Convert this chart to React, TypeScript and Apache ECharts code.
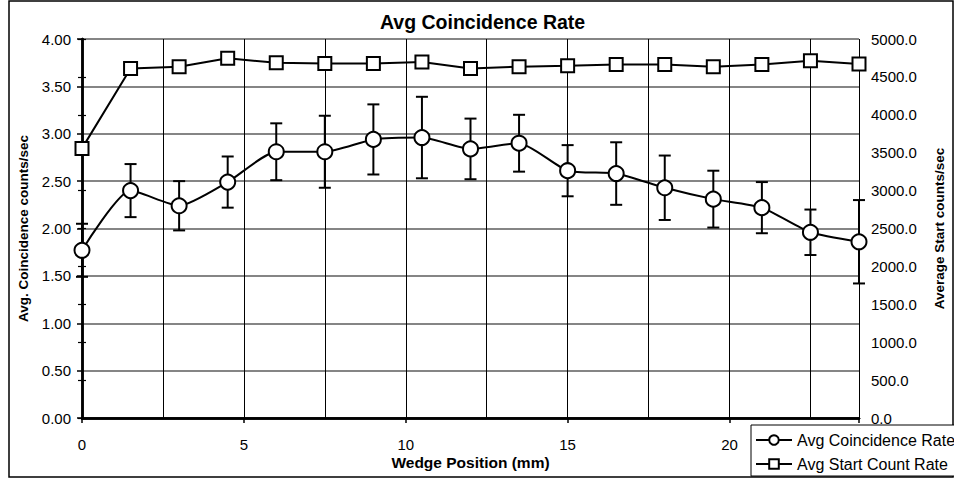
import React, { useEffect, useRef } from "react";
import * as echarts from "echarts";

const positions = [0, 1.5, 3, 4.5, 6, 7.5, 9, 10.5, 12, 13.5, 15, 16.5, 18, 19.5, 21, 22.5, 24];
const coincidence = [1.77, 2.40, 2.24, 2.49, 2.81, 2.81, 2.94, 2.96, 2.84, 2.90, 2.61, 2.58, 2.43, 2.31, 2.22, 1.96, 1.86];
const coincidenceErr = [0.28, 0.28, 0.26, 0.27, 0.30, 0.38, 0.37, 0.43, 0.32, 0.30, 0.27, 0.33, 0.34, 0.30, 0.27, 0.24, 0.44];
const startRate = [3557, 4612, 4634, 4745, 4687, 4678, 4678, 4696, 4612, 4634, 4647, 4665, 4665, 4634, 4665, 4713, 4670];

const seriesNames = ["Avg Coincidence Rate", "Avg Start Count Rate"];
const titleText = "Avg Coincidence Rate";
const xName = "Wedge Position (mm)";
const yLeftName = "Avg. Coincidence counts/sec";
const yRightName = "Average Start counts/sec";

const FONT = "'Liberation Sans', Arial, sans-serif";

export default function App() {
  const ref = useRef<HTMLDivElement>(null);
  useEffect(() => {
    if (!ref.current) return;
    const chart = echarts.init(ref.current, undefined, { renderer: "svg" });
    const coincData = positions.map((x, i) => [x, coincidence[i]]);
    const startData = positions.map((x, i) => [x, startRate[i]]);
    const errData = positions.map((x, i) => [x, coincidence[i] - coincidenceErr[i], coincidence[i] + coincidenceErr[i]]);

    const option: any = {
      animation: false,
      backgroundColor: "#ffffff",
      textStyle: { fontFamily: FONT, color: "#000" },
      title: {
        text: titleText,
        left: 380,
        top: 12,
        padding: 0,
        textStyle: { fontFamily: FONT, fontSize: 19.5, fontWeight: "bold", color: "#000" },
      },
      grid: { left: 82, right: 87, top: 39, bottom: 60, containLabel: false },
      legend: {
        data: [{ name: seriesNames[0] }, { name: seriesNames[1] }],
        orient: "vertical",
        left: 751,
        top: 425,
        padding: [7, 6, 4, 4],
        itemGap: 8,
        itemWidth: 36,
        itemHeight: 12,
        backgroundColor: "#ffffff",
        borderColor: "#000",
        borderWidth: 1,
        textStyle: { fontFamily: FONT, fontSize: 16, color: "#000" },
        z: 20,
      },
      graphic: [
        {
          type: "rect",
          shape: { x: 9, y: 1, width: 944, height: 476 },
          style: { fill: "none", stroke: "#000", lineWidth: 1.5 },
          z: 0,
          silent: true,
        },
      ],
      xAxis: [
        {
          type: "value",
          min: 0,
          max: 24,
          interval: 2.5,
          position: "bottom",
          axisLine: { show: true, lineStyle: { color: "#000", width: 2.5 } },
          axisTick: { show: false },
          axisLabel: { show: false },
          splitLine: { show: true, lineStyle: { color: "#000", width: 1 } },
          name: xName,
          nameLocation: "middle",
          nameGap: 36,
          nameTextStyle: { fontFamily: FONT, fontSize: 15.5, fontWeight: "bold", color: "#000" },
        },
        {
          type: "value",
          min: 0,
          max: 24,
          interval: 5,
          position: "bottom",
          axisLine: { show: false },
          axisTick: { show: true, length: 5, lineStyle: { color: "#000", width: 1.5 } },
          axisLabel: {
            show: true,
            margin: 19,
            fontSize: 15,
            fontFamily: FONT,
            color: "#000",
            formatter: (v: number) => (v % 5 === 0 ? String(v) : ""),
          },
          splitLine: { show: false },
        },
        {
          type: "value",
          min: 0,
          max: 24,
          position: "top",
          axisLine: { show: true, lineStyle: { color: "#000", width: 2.5 } },
          axisTick: { show: false },
          axisLabel: { show: false },
          splitLine: { show: false },
        },
      ],
      yAxis: [
        {
          type: "value",
          min: 0,
          max: 4,
          interval: 0.5,
          position: "left",
          axisLine: { show: true, lineStyle: { color: "#000", width: 2.5 } },
          axisTick: { show: true, length: 5, lineStyle: { color: "#000", width: 1.5 } },
          axisLabel: {
            margin: 11,
            fontSize: 15,
            fontFamily: FONT,
            color: "#000",
            formatter: (v: number) => v.toFixed(2),
          },
          splitLine: { show: true, lineStyle: { color: "#858585", width: 2 } },
          name: yLeftName,
          nameLocation: "middle",
          nameRotate: 90,
          nameGap: 51,
          nameTextStyle: { fontFamily: FONT, fontSize: 13.5, fontWeight: "bold", color: "#000" },
        },
        {
          type: "value",
          min: 0,
          max: 5000,
          interval: 500,
          position: "right",
          axisLine: { show: true, lineStyle: { color: "#000", width: 2.5 } },
          axisTick: { show: true, length: 4, lineStyle: { color: "#000", width: 1.2 } },
          axisLabel: {
            margin: 12,
            fontSize: 15,
            fontFamily: FONT,
            color: "#000",
            formatter: (v: number) => v.toFixed(1),
          },
          splitLine: { show: false },
          name: yRightName,
          nameLocation: "middle",
          nameRotate: 90,
          nameGap: 73,
          nameTextStyle: { fontFamily: FONT, fontSize: 13.5, fontWeight: "bold", color: "#000" },
        },
        {
          type: "value",
          min: 0,
          max: 5000,
          interval: 500,
          position: "right",
          axisLine: { show: false },
          axisTick: { show: true, inside: true, length: 4, lineStyle: { color: "#000", width: 1.2 } },
          axisLabel: { show: false },
          splitLine: { show: false },
        },
      ],
      series: [
        {
          type: "custom",
          name: "errors",
          xAxisIndex: 0,
          yAxisIndex: 0,
          z: 1,
          clip: false,
          data: errData,
          encode: { x: 0, y: [1, 2] },
          renderItem: (params: any, api: any) => {
            const x = api.value(0);
            const lo = api.coord([x, api.value(1)]);
            const hi = api.coord([x, api.value(2)]);
            const cap = 6;
            const style = { stroke: "#000", lineWidth: 2 };
            return {
              type: "group",
              children: [
                { type: "line", shape: { x1: lo[0], y1: lo[1], x2: hi[0], y2: hi[1] }, style },
                { type: "line", shape: { x1: lo[0] - cap, y1: lo[1], x2: lo[0] + cap, y2: lo[1] }, style },
                { type: "line", shape: { x1: hi[0] - cap, y1: hi[1], x2: hi[0] + cap, y2: hi[1] }, style },
              ],
            };
          },
        },
        {
          type: "line",
          name: seriesNames[0],
          xAxisIndex: 0,
          yAxisIndex: 0,
          z: 3,
          data: coincData,
          smooth: 0.2,
          symbol: "circle",
          symbolSize: 15,
          showAllSymbol: true,
          clip: false,
          lineStyle: { color: "#000", width: 2 },
          itemStyle: { color: "#ffffff", borderColor: "#000", borderWidth: 2 },
        },
        {
          type: "line",
          name: seriesNames[1],
          xAxisIndex: 0,
          yAxisIndex: 1,
          z: 3,
          data: startData,
          symbol: "rect",
          symbolSize: 13,
          showAllSymbol: true,
          clip: false,
          lineStyle: { color: "#000", width: 2 },
          itemStyle: { color: "#ffffff", borderColor: "#000", borderWidth: 2 },
        },
      ],
    };
    chart.setOption(option);
    return () => chart.dispose();
  }, []);
  return (
    <div
      ref={ref}
      style={{ position: "fixed", left: 0, top: 0, width: 954, height: 478, background: "#fff" }}
    />
  );
}
